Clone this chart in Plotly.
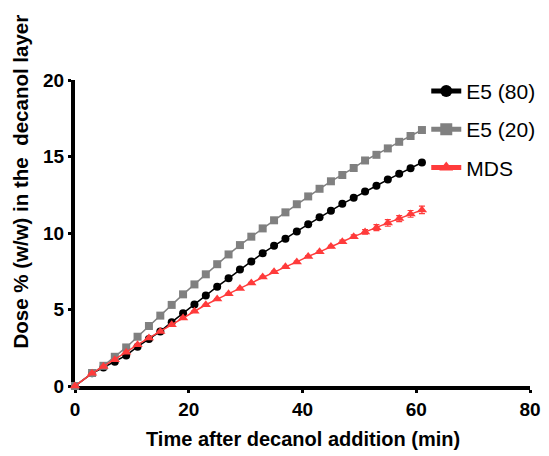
import plotly.graph_objects as go

time_min = [0, 3, 5, 7, 9, 11, 13, 15, 17, 19, 21, 23, 25, 27, 29, 31, 33, 35,
            37, 39, 41, 43, 45, 47, 49, 51, 53, 55, 57, 59, 61]

e5_80 = [0, 0.83, 1.21, 1.58, 2.00, 2.57, 3.07, 3.57, 4.17, 4.76, 5.33, 5.92,
         6.49, 7.04, 7.61, 8.14, 8.68, 9.17, 9.62, 10.10, 10.57, 11.03, 11.45,
         11.91, 12.30, 12.72, 13.09, 13.49, 13.88, 14.23, 14.61]
e5_80_err = [0, 0.02, 0.02, 0.02, 0.03, 0.03, 0.03, 0.03, 0.04, 0.04, 0.04, 0.04,
             0.05, 0.05, 0.05, 0.05, 0.05, 0.05, 0.06, 0.06, 0.06, 0.06, 0.06,
             0.07, 0.07, 0.07, 0.07, 0.08, 0.08, 0.08, 0.08]

e5_20 = [0, 0.85, 1.32, 1.91, 2.52, 3.22, 3.92, 4.60, 5.30, 5.99, 6.64, 7.30,
         7.96, 8.60, 9.21, 9.76, 10.30, 10.83, 11.35, 11.88, 12.39, 12.89, 13.38,
         13.79, 14.25, 14.74, 15.11, 15.53, 15.96, 16.34, 16.73]
e5_20_err = [0, 0.02, 0.02, 0.03, 0.03, 0.03, 0.04, 0.04, 0.04, 0.05, 0.05, 0.05,
             0.05, 0.06, 0.06, 0.06, 0.06, 0.07, 0.07, 0.07, 0.08, 0.08, 0.08,
             0.09, 0.09, 0.09, 0.10, 0.10, 0.10, 0.11, 0.11]

mds = [0, 0.83, 1.28, 1.72, 2.21, 2.70, 3.14, 3.57, 4.01, 4.45, 4.89, 5.31,
       5.68, 6.03, 6.38, 6.73, 7.13, 7.46, 7.79, 8.11, 8.47, 8.77, 9.12,
       9.43, 9.76, 10.07, 10.35, 10.66, 10.94, 11.25, 11.51]
mds_err = [0, 0.01, 0.01, 0.01, 0.02, 0.02, 0.02, 0.02, 0.03, 0.03, 0.03, 0.03,
           0.04, 0.04, 0.04, 0.04, 0.05, 0.05, 0.05, 0.06, 0.06, 0.07, 0.08,
           0.10, 0.12, 0.15, 0.20, 0.22, 0.20, 0.22, 0.25]

x_ticks = [0, 20, 40, 60, 80]
y_ticks = [0, 5, 10, 15, 20]

series = [
    ("E5 (80)", e5_80, e5_80_err, "#000000", "circle", 8),
    ("E5 (20)", e5_20, e5_20_err, "#808080", "square", 8),
    ("MDS", mds, mds_err, "#ff3b3b", "triangle-up", 9),
]

fig = go.Figure()
for i, (name, vals, err, color, sym, size) in enumerate(series):
    fig.add_trace(go.Scatter(
        x=time_min, y=vals, name=name, mode="lines+markers",
        line=dict(color=color, width=1.5),
        marker=dict(symbol=sym, size=size, color=color, line=dict(width=0)),
        error_y=dict(type="data", array=err, visible=True, color=color,
                     thickness=1.2, width=3),
        cliponaxis=False, legendgroup=f"g{i}",
    ))

axis_common = dict(
    showline=True, linecolor="black", linewidth=4, mirror=False,
    ticks="outside", ticklen=3, tickwidth=3, tickcolor="black",
    showgrid=False, zeroline=False,
    tickfont=dict(family="Liberation Sans, Arial, sans-serif", size=19,
                  color="black", weight="bold"),
    layer="below traces",
)

fig.update_xaxes(range=[0, 80], tickvals=x_ticks, **axis_common)
fig.update_yaxes(range=[0, 20], tickvals=y_ticks, **axis_common)

# page body has an 8px margin, so the figure is sized to fit the window
fig.update_layout(
    width=541, height=448,
    margin=dict(l=67, r=19, t=72, b=70, autoexpand=False),
    plot_bgcolor="white", paper_bgcolor="white",
    font=dict(family="Liberation Sans, Arial, sans-serif", color="black"),
    legend=dict(x=0.772, y=1.03, xanchor="left", yanchor="top",
                font=dict(size=21, color="black"),
                bgcolor="rgba(0,0,0,0)", tracegroupgap=8,
                itemsizing="constant"),
    annotations=[
        dict(text="Time after decanol addition (min)", xref="paper", yref="paper",
             x=0.5, y=-0.172, xanchor="center", yanchor="middle", showarrow=False,
             font=dict(size=20, weight="bold", color="black")),
        dict(text="Dose % (w/w) in the  decanol layer", xref="paper", yref="paper",
             x=-0.1187, y=0.668, xanchor="center", yanchor="middle", showarrow=False,
             textangle=-90, font=dict(size=20.5, weight="bold", color="black")),
    ],
)

fig.write_html("out.html")
